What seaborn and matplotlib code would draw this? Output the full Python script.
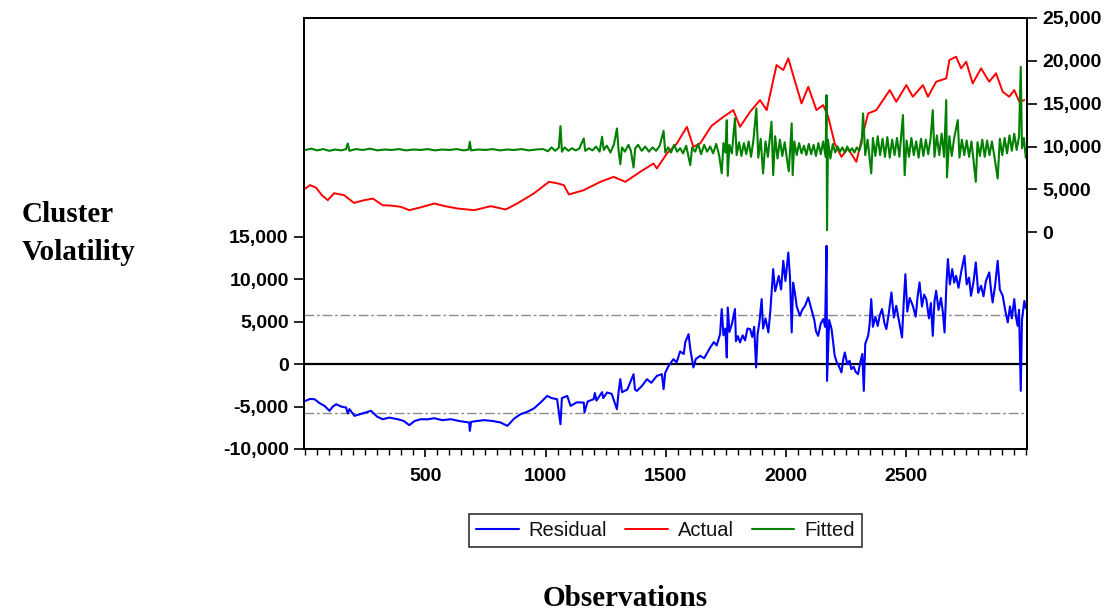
import numpy as np
import pandas as pd
import matplotlib
matplotlib.use("Agg")
import matplotlib.pyplot as plt
import seaborn as sns
from matplotlib.ticker import MultipleLocator, FuncFormatter

# values (obs number, value)
actual_obs = [1, 20, 45, 70, 94, 120, 162, 203, 240, 281, 322, 360, 398, 433, 480, 537, 580,
              633, 703, 772, 834, 882, 951, 1014, 1050, 1076, 1097, 1159, 1228, 1283, 1332,
              1394, 1449, 1463, 1505, 1545, 1588, 1615, 1643, 1690, 1740, 1781, 1809, 1851,
              1892, 1920, 1961, 1989, 2010, 2030, 2065, 2093, 2127, 2155, 2176, 2203, 2231,
              2258, 2293, 2321, 2342, 2376, 2432, 2459, 2501, 2528, 2570, 2591, 2625, 2667,
              2680, 2708, 2729, 2750, 2777, 2812, 2846, 2874, 2902, 2929, 2950, 2971, 2992]
actual_vals = [5100, 5500, 5200, 4300, 3740, 4550, 4320, 3420, 3700, 3930, 3150, 3100, 2960,
               2570, 2900, 3350, 3050, 2770, 2570, 3040, 2650, 3350, 4520, 5880, 5700, 5490,
               4400, 4910, 5880, 6460, 5880, 7050, 8020, 7440, 9190, 10300, 12300, 9960, 10360,
               12400, 13470, 14250, 12300, 14050, 15420, 14250, 19510, 18920, 20290, 18340,
               15030, 16970, 14250, 14840, 13470, 10360, 8800, 9780, 8210, 11530, 13860, 14250,
               16590, 15220, 17170, 15810, 17170, 15810, 17560, 17950, 20090, 20480, 19120,
               19900, 17370, 19120, 17560, 18540, 16390, 15810, 16590, 15220, 15420]

fitted_obs = [1, 25, 50, 75, 100, 125, 150, 170, 177, 184, 210, 240, 270, 300, 330, 360, 390,
              420, 450, 480, 510, 540, 570, 600, 630, 660, 680, 685, 690, 720, 750, 780, 810,
              840, 870, 900, 930, 960, 990,
              1010, 1025, 1040, 1055, 1062, 1068, 1080, 1095, 1110, 1125, 1140, 1159, 1165,
              1180, 1195, 1210, 1225, 1235, 1242, 1255, 1270, 1285, 1297, 1304, 1311, 1318,
              1330, 1345, 1355, 1366, 1373, 1385, 1400, 1415, 1430, 1445, 1460, 1475, 1491, 1498,
              1510, 1522, 1535, 1547, 1560, 1572, 1585, 1602, 1610, 1622, 1635, 1647, 1660,
              1672, 1685, 1697, 1710, 1722, 1733, 1740, 1748, 1754, 1758, 1765, 1775, 1788,
              1795, 1805, 1815, 1825, 1835, 1845, 1855, 1865, 1877, 1885, 1895, 1905, 1915,
              1925, 1940, 1947, 1955, 1965, 1975, 1985, 1995, 2005, 2012, 2024, 2028, 2035,
              2045, 2055, 2065, 2075, 2085, 2095, 2105, 2115, 2125, 2135, 2145, 2155, 2165,
              2169, 2171, 2175, 2185, 2195, 2205, 2215, 2225, 2235, 2245, 2255, 2265, 2275,
              2285, 2295, 2305, 2315, 2321, 2330, 2340, 2355, 2362, 2372, 2382, 2392, 2402,
              2412, 2422, 2432, 2442, 2452, 2462, 2472, 2487, 2494, 2502, 2512, 2522, 2532,
              2542, 2552, 2562, 2572, 2582, 2592, 2602, 2611, 2618, 2628, 2638, 2648, 2658,
              2667, 2670, 2680, 2690, 2700, 2715, 2722, 2732, 2742, 2752, 2762, 2772, 2790,
              2797, 2807, 2817, 2827, 2837, 2847, 2857, 2867, 2881, 2890, 2900, 2910, 2920,
              2930, 2940, 2950, 2960, 2970, 2977, 2982, 2990, 2998]
fitted_vals = [9600, 9750, 9550, 9700, 9500, 9650, 9550, 9700, 10360, 9500, 9700, 9600, 9750,
               9550, 9650, 9600, 9700, 9550, 9650, 9600, 9700, 9550, 9650, 9600, 9700, 9550,
               9650, 10550, 9550, 9650, 9600, 9700, 9550, 9650, 9600, 9700, 9550, 9650, 9700,
               9450, 9900, 9500, 9850, 12380, 9400, 9900, 9500, 9800, 9550, 9750, 10940, 9500,
               9800, 9550, 10000, 9400, 11140, 9600, 10100, 9300, 10300, 12110, 9500, 7940,
               9900, 9400, 10200, 9500, 7560, 9800, 10200, 9500, 10000, 9400, 9900, 9500,
               10100, 11830, 9300,
               9900, 9300, 10200, 9400, 9800, 9200, 10100, 7830, 9900, 9400, 10300, 9100,
               10200, 9400, 10000, 9200, 10300, 9000, 6860, 10400, 9300, 13080, 6580, 10200,
               9200, 13280, 9000, 10500, 8900, 10400, 9100, 10600, 8800, 10800, 14450, 8700,
               10900, 6860, 10600, 8800, 12900, 6660, 11200, 8600, 10800, 8900, 10500, 8400,
               7100, 12700, 6660, 10600, 9000, 10400, 9200, 10100, 9000, 10300, 9100, 10200,
               8900, 10400, 9100, 10600, 8800, 16000, 250, 10800, 8600, 10300, 9300, 10000,
               9400, 9900, 9300, 10000, 9400, 9800, 9300, 9900, 9500, 10400, 13860, 9000,
               10800, 6860, 11000, 8900, 11200, 9000, 10900, 8800, 11100, 8700, 10800, 9000,
               11000, 8800, 13670, 6660, 10700, 8800, 11000, 9000, 10600, 8700, 10900, 8900,
               10800, 9100, 11000, 14250, 8800, 11300, 9000, 11500, 8800, 15420, 6400, 11200,
               8900, 11000, 13080, 8700, 10800, 9000, 10700, 8800, 10600, 5880, 10500, 8900,
               10800, 8800, 10700, 9000, 10600, 8900, 6270, 10900, 9000, 11000, 9200, 11300,
               9500, 11500, 9600, 11200, 19300, 9800, 11000, 8700]

resid_obs = [1, 20, 39, 60, 80, 101, 115, 129, 150, 170, 177, 184, 205, 240, 274, 300, 322,
             350, 385, 410, 433, 455, 481, 510, 537, 570, 606, 640, 682, 685, 690, 715, 744,
             780, 813, 841, 870, 896, 925, 951, 980, 1007, 1025, 1048, 1062, 1068, 1090, 1104,
             1130, 1159, 1162, 1175, 1200, 1205, 1212, 1235, 1240, 1256, 1275, 1297, 1304,
             1311, 1318, 1340, 1366, 1372, 1380, 1400, 1422, 1440, 1463, 1484, 1491, 1498,
             1512, 1532, 1545, 1560, 1575, 1581, 1595, 1602, 1615, 1625, 1643, 1660, 1685,
             1700, 1712, 1726, 1733, 1740, 1748, 1754, 1758, 1765, 1775, 1788, 1792, 1800,
             1809, 1820, 1830, 1840, 1851, 1860, 1868, 1876, 1882, 1890, 1899, 1905, 1915,
             1927, 1935, 1947, 1955, 1961, 1970, 1980, 1989, 1998, 2010, 2017, 2024, 2030,
             2037, 2045, 2058, 2068, 2080, 2093, 2105, 2118, 2125, 2134, 2145, 2155, 2163,
             2169, 2171, 2180, 2190, 2203, 2212, 2220, 2231, 2238, 2245, 2255, 2265, 2272,
             2282, 2290, 2300, 2310, 2318, 2324, 2330, 2342, 2348, 2355, 2362, 2372, 2382,
             2390, 2400, 2410, 2418, 2428, 2439, 2449, 2459, 2470, 2483, 2490, 2497, 2505,
             2515, 2528, 2540, 2548, 2556, 2566, 2575, 2584, 2595, 2603, 2611, 2618, 2625,
             2635, 2645, 2653, 2660, 2668, 2674, 2682, 2692, 2700, 2708, 2718, 2730, 2743,
             2752, 2762, 2770, 2780, 2790, 2800, 2812, 2822, 2832, 2846, 2853, 2860, 2870,
             2881, 2890, 2902, 2912, 2923, 2932, 2940, 2950, 2957, 2964, 2970, 2977, 2982,
             2992, 2998]
resid_vals = [-4330, -4100, -4130, -4600, -4910, -5500, -5000, -4720, -5000, -5110, -5800,
              -5300, -6090, -5800, -5500, -6200, -6490, -6300, -6490, -6700, -7190, -6700,
              -6490, -6500, -6370, -6600, -6490, -6700, -6880, -7860, -6800, -6700, -6600,
              -6700, -6880, -7270, -6400, -5900, -5600, -5230, -4500, -3740, -4000, -4130,
              -7080, -4000, -3740, -4920, -4500, -4530, -5700, -4400, -4130, -3400, -4300,
              -3300, -4000, -3340, -3500, -5310, -3200, -1770, -3300, -3000, -1180, -3000,
              -3150, -2600, -1770, -2200, -1380, -1180, -2950, -1000, -200, 590, 200, 1500,
              1200, 2560, 3540, 1800, -390, 600, 980, 700, 1960, 2600, 2200, 3540, 6490, 3400,
              4200, 790, 6680, 3800, 4700, 6500, 2700, 3300, 2560, 3400, 2800, 4200, 4130,
              3200, 4400, -390, 3500, 5000, 7670, 4200, 5400, 3740, 6200, 11200, 8600, 9240,
              10400, 8800, 12180, 9800, 13160, 10200, 3740, 9600, 8450, 6800, 5700, 6400,
              6900, 7860, 6600, 5200, 3900, 3340, 4800, 5310, 4400, 13950, -1970, 5200, 4130,
              980, 200, -200, -980, 500, 1380, 0, 400, -590, -300, -900, -1180, 300, 1200,
              -3150, 2400, 3340, 4600, 7670, 4400, 5600, 4500, 5700, 6500, 4800, 4130, 6000,
              8450, 5500, 6880, 5200, 3150, 7200, 10610, 6200, 7800, 6880, 5600, 8000, 9630,
              6800, 8200, 7670, 5400, 7200, 3340, 7400, 8650, 6400, 7800, 6100, 3740, 9600,
              12380, 9400, 11200, 9600, 10410, 9000, 11000, 12770, 9400, 10200, 8060, 9600,
              11990, 8400, 9240, 8000, 9800, 10810, 8800, 7270, 9200, 12180, 8800, 8060, 6400,
              4920, 6800, 5400, 7670, 5600, 4520, 6400, -3150, 5200, 7460, 6600]

band = 5750  # dashed +/- lines on the residual scale

sns.set_style("ticks")
plt.rcParams['font.family'] = ['Liberation Sans', 'DejaVu Sans']
plt.rcParams['text.color'] = 'black'
plt.rcParams['xtick.color'] = 'black'
plt.rcParams['ytick.color'] = 'black'
plt.rcParams['xtick.labelcolor'] = 'black'
plt.rcParams['ytick.labelcolor'] = 'black'

actual = pd.DataFrame({"obs": actual_obs, "value": actual_vals})
fitted = pd.DataFrame({"obs": fitted_obs, "value": fitted_vals})
resid = pd.DataFrame({"obs": resid_obs, "value": resid_vals})

fig = plt.figure(figsize=(11.09, 6.12), dpi=100)
ax = fig.add_axes([304 / 1109, 163 / 612, 723 / 1109, 431 / 612])
ax2 = ax.twinx()

sns.lineplot(data=resid, x="obs", y="value", ax=ax, color="#0000ff", linewidth=1.5,
             estimator=None, label="Residual")
ax.axhline(0, color="black", linewidth=1.6, zorder=1)
for lvl in (band, -band):
    ax.axhline(lvl, color="#8c8c8c", linewidth=1.0, linestyle=(0, (7, 2, 2, 2)), zorder=1)

sns.lineplot(data=actual, x="obs", y="value", ax=ax2, color="#ff0000", linewidth=1.4,
             estimator=None, label="Actual")
sns.lineplot(data=fitted, x="obs", y="value", ax=ax2, color="#008000", linewidth=1.5,
             estimator=None, label="Fitted")

ax.set_xlim(-5, 3003)
ax.set_ylim(-10000, 40800)
ax2.set_ylim(-25300, 25000)

fmt = FuncFormatter(lambda v, p: f"{v:,.0f}")
ax.set_yticks(np.arange(-10000, 15001, 5000))
ax.yaxis.set_major_formatter(fmt)
ax2.set_yticks(np.arange(0, 25001, 5000))
ax2.yaxis.set_major_formatter(fmt)
ax.set_xticks([500, 1000, 1500, 2000, 2500])
ax.xaxis.set_minor_locator(MultipleLocator(50))

ax.tick_params(axis="x", which="major", direction="out", length=6, width=1.2, pad=8,
               labelsize=14)
ax.tick_params(axis="x", which="minor", direction="out", length=4, width=1.0)
ax.tick_params(axis="y", direction="out", length=7, width=1.2, pad=4, labelsize=14)
ax2.tick_params(axis="y", direction="out", length=7, width=1.2, pad=4, labelsize=14)
for lab in ax.get_xticklabels() + ax.get_yticklabels() + ax2.get_yticklabels():
    lab.set_fontweight("bold")
    lab.set_color("black")

ax.set_xlabel("")
ax.set_ylabel("")
ax2.set_ylabel("")
for a in (ax, ax2):
    for sp in a.spines.values():
        sp.set_visible(True)
        sp.set_color("black")
        sp.set_linewidth(1.3)

h1, l1 = ax.get_legend_handles_labels()
h2, l2 = ax2.get_legend_handles_labels()
ax.get_legend().remove()
ax2.get_legend().remove()
leg = fig.legend(h1 + h2, l1 + l2, loc="center", bbox_to_anchor=(665.5 / 1109, 0.133),
                 ncol=3, frameon=True, fancybox=False, edgecolor="black", fontsize=14.5,
                 handlelength=2.1, columnspacing=0.9, handletextpad=0.5, borderpad=0.35)
leg.get_frame().set_linewidth(1.2)
for t in leg.get_texts():
    t.set_color("#111111")

serif = ['Liberation Serif', 'DejaVu Serif']
fig.text(22 / 1109, 1 - 215 / 612, "Cluster", family=serif, fontweight="bold",
         fontsize=21, ha="left", va="center", color="black")
fig.text(22 / 1109, 1 - 253 / 612, "Volatility", family=serif, fontweight="bold",
         fontsize=21, ha="left", va="center", color="black")
fig.text(625 / 1109, 1 - 598 / 612, "Observations", family=serif, fontweight="bold",
         fontsize=21, ha="center", va="center", color="black")

fig.savefig("out.png", dpi=100)
